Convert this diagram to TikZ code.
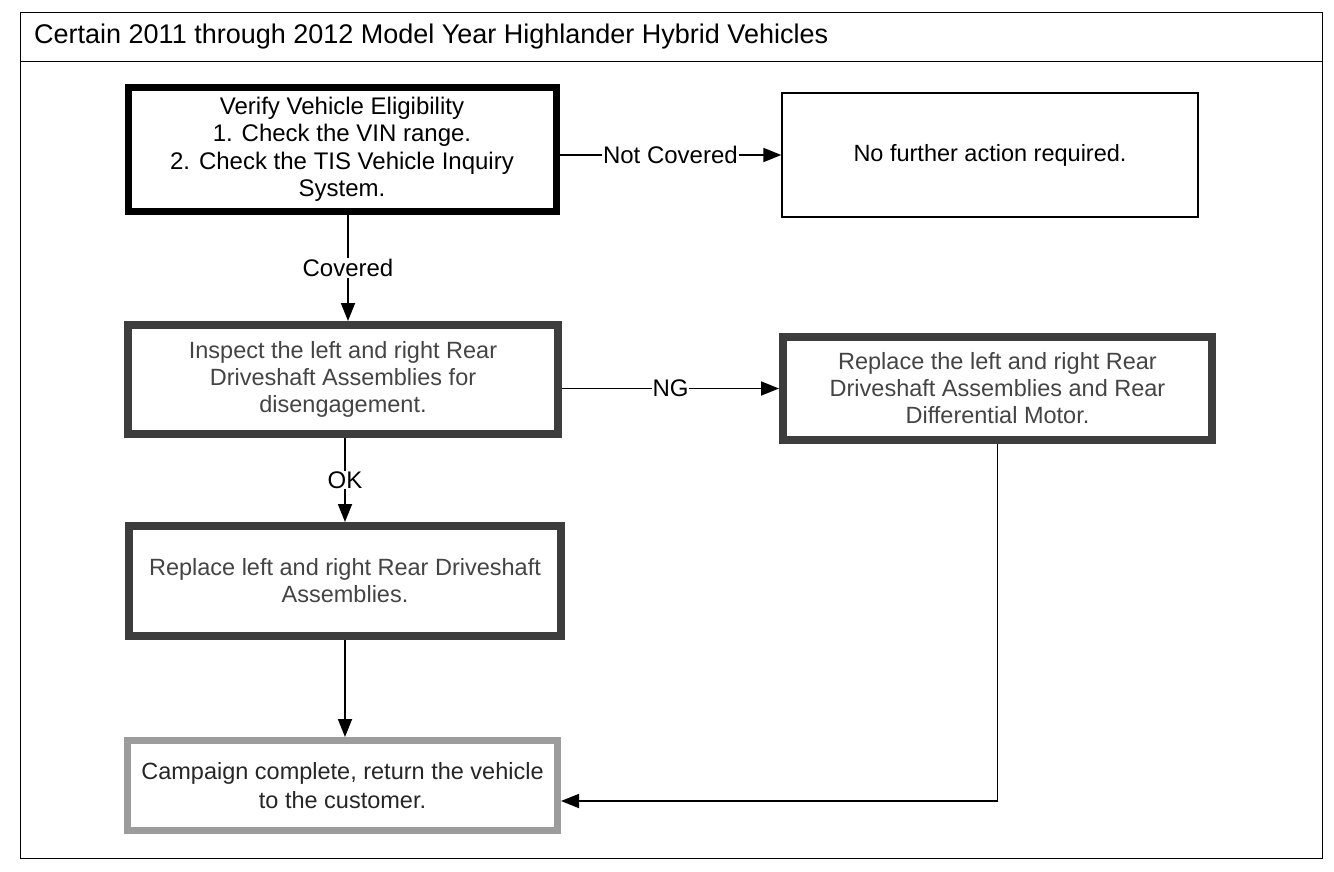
\documentclass[tikz,border=0pt]{standalone}
\usepackage{fontspec}
\setmainfont{Liberation Sans}
\usetikzlibrary{arrows.meta}
\definecolor{boxgray}{HTML}{3C3D3C}
\definecolor{txtgray}{HTML}{444444}
\definecolor{lightgray}{HTML}{9C9C9C}
\begin{document}
\begin{tikzpicture}[x=1pt,y=-1pt,
  box/.style={draw, rectangle, align=center, inner sep=0pt, font=\fontsize{23.5}{27}\selectfont},
  blackbox/.style={box, line width=7pt, draw=black, font=\fontsize{24}{27.5}\selectfont},
  thinbox/.style={box, line width=1.3pt, draw=black},
  darkbox/.style={box, line width=8pt, draw=boxgray, text=txtgray},
  endbox/.style={box, line width=7pt, draw=lightgray, text=black!85, font=\fontsize{23.5}{29}\selectfont},
  conn/.style={line width=1.8pt, -{Triangle[length=18pt,width=14pt]}},
  lbl/.style={fill=white, inner sep=1pt, font=\fontsize{24}{27}\selectfont}
]
\useasboundingbox (0,0) rectangle (1334,872);
\fill[white] (0,0) rectangle (1334,872);
% frame
\draw[line width=1pt] (20,13) rectangle (1322,858);
\draw[line width=1pt] (20,62) -- (1322,62);
\node[anchor=west, inner sep=0pt, font=\fontsize{27}{31}\selectfont] (title) at (34,37) {Certain 2011 through 2012 Model Year Highlander Hybrid Vehicles};

% boxes
\node[blackbox, minimum width=428pt, minimum height=123pt] (b1) at (342,149.5)
  {Verify Vehicle Eligibility\\1. Check the VIN range.\\2. Check the TIS Vehicle Inquiry\\System.};
\node[thinbox, minimum width=416pt, minimum height=124pt] (nf) at (990,155)
  {No further action required.};
\node[darkbox, minimum width=430pt, minimum height=109pt] (b2) at (343,379.5)
  {Inspect the left and right Rear\\Driveshaft Assemblies for\\disengagement.};
\node[darkbox, minimum width=429pt, minimum height=103pt] (b3) at (997.5,388.5)
  {Replace the left and right Rear\\Driveshaft Assemblies and Rear\\Differential Motor.};
\node[darkbox, minimum width=432pt, minimum height=110pt] (b4) at (345,581)
  {Replace left and right Rear Driveshaft\\Assemblies.};
\node[endbox, minimum width=430pt, minimum height=90pt] (b5) at (342.5,785.5)
  {Campaign complete, return the vehicle\\to the customer.};

\coordinate (cx1) at (348,0);
\coordinate (cx2) at (345,0);
\coordinate (cy5) at (0,801);

% connectors
\draw[conn] (b1.east |- nf.west) -- node[lbl] (lnc) {Not Covered} (nf.west);
\draw[conn] (b1.south -| cx1) -- node[lbl] (lcov) {Covered} (b2.north -| cx1);
\draw[conn] (b2.east |- b3.west) -- node[lbl, inner sep=0.5pt] (lng) {NG} (b3.west);
\draw[conn] (b2.south -| cx2) -- node[lbl] (lok) {OK} (b4.north -| cx2);
\draw[conn] (b4.south -| cx2) -- (b5.north -| cx2);
\draw[conn] (b3.south) |- (b5.east |- cy5);
\end{tikzpicture}
\end{document}
